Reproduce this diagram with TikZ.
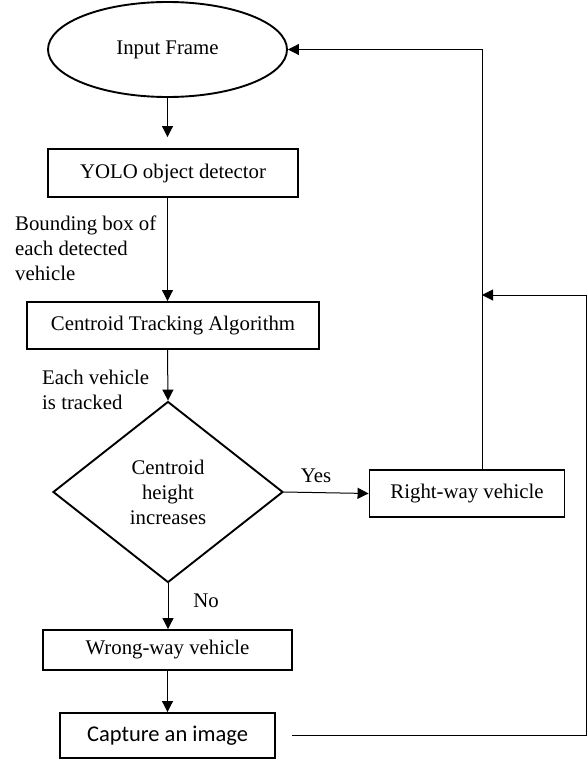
\documentclass[tikz,border=0pt]{standalone}
\usepackage{fontspec}
\setmainfont{Liberation Serif}
\newfontfamily\calfont{Carlito}
\usepackage{tikz}
\usetikzlibrary{calc,arrows.meta,positioning,shapes.geometric}

\begin{document}
\begin{tikzpicture}[x=1pt,y=-1pt,
    font=\fontsize{20.8}{25}\selectfont,
    box/.style={draw, line width=1.9pt, rectangle, inner sep=0pt},
    startnode/.style={draw, line width=1.9pt, ellipse, inner sep=0pt, minimum width=239, minimum height=95},
    decision/.style={draw, line width=1.9pt, diamond, align=center, inner sep=0pt, minimum width=230, minimum height=181},
    lbl/.style={anchor=west, align=left, inner sep=0pt},
    flow/.style={line width=1pt, -{Triangle[length=11pt,width=11pt]}}]
        \useasboundingbox (0,0) rectangle (588,765);
        % Start of the loop
        \node[startnode] (input) at (167.5,49.5) {Input Frame};
        % Processing boxes
        \node[box, minimum width=250, minimum height=48] (yolo) at (173,173) {YOLO object detector};
        \node[box, minimum width=292, minimum height=47] (track) at (173,325.5) {Centroid Tracking Algorithm};
        % Decision and its two outcomes
        \node[decision] (dec) at (168,492) {Centroid\\height\\increases};
        \node[box, minimum width=195, minimum height=47] (right) at (467,493.5) {Right-way vehicle};
        \node[box, minimum width=249, minimum height=40] (wrong) at (167.5,650) {Wrong-way vehicle};
        \node[box, minimum width=215, minimum height=45, font=\calfont\fontsize{22.5}{27}\selectfont] (capture) at (167.5,735.5) {Capture an image};
        % Side labels
        \node[lbl] (bbox) at (15,248) {Bounding box of\\each detected\\vehicle};
        \node[lbl] (tracked) at (42,390) {Each vehicle\\is tracked};
        \node (yes) at (316,476) {Yes};
        \node (no) at (206,601) {No};
        % Helper coordinates for the return lines
        \coordinate (mainx) at (167.5,0);
        \coordinate (upx) at (482,0);
        \coordinate (farx) at (586.5,0);
        \coordinate (join) at (482,295);
        % Main flow
        \draw[flow, shorten >=11pt] (input.south) -- (yolo.north -| mainx);
        \draw[flow] (yolo.south -| mainx) -- (track.north -| mainx);
        \draw[flow] (track.south -| mainx) -- (dec.north);
        \draw[flow] (dec.east) -- (right.west);
        \draw[flow] (dec.south) -- (wrong.north -| dec.south);
        \draw[flow] (wrong.south) -- (capture.north);
        % Return lines
        \draw[flow] (right.north -| upx) |- (input.east);
        \draw[flow] ([xshift=16pt]capture.east) -- (capture.east -| farx) |- (join);
\end{tikzpicture}
\end{document}
